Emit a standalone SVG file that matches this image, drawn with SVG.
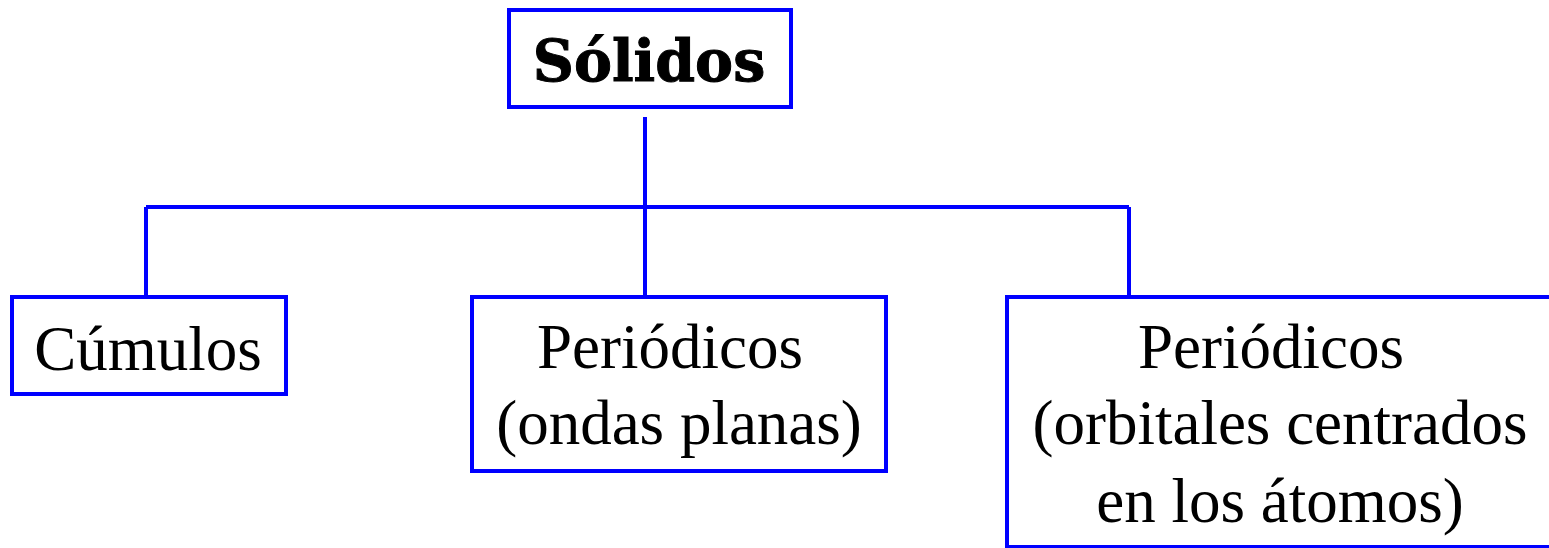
<svg xmlns="http://www.w3.org/2000/svg" width="1549" height="548" viewBox="0 0 1549 548">
<style>
.box{fill:#fff;stroke:#0000ff;stroke-width:4}
.con{stroke:#0000ff;stroke-width:4;fill:none}
.t{font-family:"Liberation Serif","Times New Roman",serif;font-size:63px;fill:#000;text-anchor:middle}
.b{font-family:"DejaVu Serif",serif;font-weight:bold;font-size:57px;fill:#000;text-anchor:middle}
</style>
<rect width="1549" height="548" fill="#fff"/>
<g id="connectors">
<line class="con" x1="645" y1="117" x2="645" y2="297"/>
<line class="con" x1="146" y1="207" x2="1129" y2="207"/>
<line class="con" x1="146" y1="207" x2="146" y2="297"/>
<line class="con" x1="1129" y1="207" x2="1129" y2="297"/>
</g>
<g id="solidos">
<rect class="box" x="509" y="10" width="282" height="97"/>
<text class="b" x="649" y="81" stroke="#000" stroke-width="1">Sólidos</text>
</g>
<g id="cumulos">
<rect class="box" x="12" y="297" width="274" height="97"/>
<text class="t" x="148" y="370">Cúmulos</text>
</g>
<g id="periodicos-ondas">
<rect class="box" x="472" y="297" width="414" height="174"/>
<text class="t" x="670" y="368">Periódicos</text>
<text class="t" x="679" y="444">(ondas planas)</text>
</g>
<g id="periodicos-orbitales">
<rect class="box" x="1007" y="297" width="560" height="250"/>
<text class="t" x="1271" y="368">Periódicos</text>
<text class="t" x="1280" y="444">(orbitales centrados</text>
<text class="t" x="1280" y="522">en los átomos)</text>
</g>
</svg>
